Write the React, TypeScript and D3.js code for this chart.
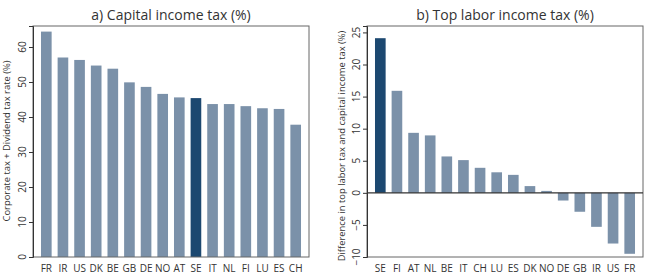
import { useRef, useEffect } from 'react';
import * as d3 from 'd3';

// panel a
const capCountries = ['FR', 'IR', 'US', 'DK', 'BE', 'GB', 'DE', 'NO', 'AT', 'SE', 'IT', 'NL', 'FI', 'LU', 'ES', 'CH'];
const capValues = [64.4, 57.0, 56.3, 54.7, 53.8, 49.9, 48.6, 46.6, 45.6, 45.4, 43.7, 43.7, 43.1, 42.5, 42.3, 37.8];
const capTicks = [0, 10, 20, 30, 40, 50, 60];

// panel b
const labCountries = ['SE', 'FI', 'AT', 'NL', 'BE', 'IT', 'CH', 'LU', 'ES', 'DK', 'NO', 'DE', 'GB', 'IR', 'US', 'FR'];
const labValues = [24.1, 15.9, 9.35, 8.95, 5.67, 5.1, 3.9, 3.2, 2.8, 1.05, 0.3, -1.2, -2.95, -5.3, -7.9, -9.5];
const labTicks = [-10, -5, 0, 5, 10, 15, 20, 25];

const LIGHT = '#7b91a9';
const DARK = '#1c4870';
const FONT = "'Open Sans', 'Noto Sans', sans-serif";

const W = 649;
const H = 274;

const App = () => {
  const svgRef = useRef<SVGSVGElement>(null);

  useEffect(() => {
    const svg = d3.select(svgRef.current);
    svg.selectAll('*').remove();

    const panel = (
      left: number,
      right: number,
      countries: string[],
      values: number[],
      ticks: number[],
      domain: [number, number],
      title: string,
      ylabel: string,
      label: { x: number; y: number; size: number },
      zeroLine: boolean
    ) => {
      const top = 26;
      const bottom = 257;
      const g = svg.append('g');

      const x = d3.scaleBand<string>().domain(countries).range([left + 5, right - 5]).paddingInner(0.36).paddingOuter(0.18);
      const y = d3.scaleLinear().domain(domain).range([bottom, top]);

      g.selectAll('rect.bar')
        .data(values)
        .join('rect')
        .attr('class', 'bar')
        .attr('x', (d, i) => x(countries[i])!)
        .attr('width', x.bandwidth())
        .attr('y', (d) => y(Math.max(0, d)))
        .attr('height', (d) => Math.abs(y(d) - y(0)))
        .attr('fill', (d, i) => (countries[i] === 'SE' ? DARK : LIGHT));

      // frame
      g.append('rect')
        .attr('x', left)
        .attr('y', top)
        .attr('width', right - left)
        .attr('height', bottom - top)
        .attr('fill', 'none')
        .attr('stroke', '#666')
        .attr('stroke-width', 1);

      if (zeroLine) {
        g.append('line')
          .attr('x1', left)
          .attr('x2', right)
          .attr('y1', y(0))
          .attr('y2', y(0))
          .attr('stroke', '#333')
          .attr('stroke-width', 1.2);
      }

      const yAxis = d3.axisLeft(y).tickValues(ticks).tickSize(4).tickFormat(() => '');
      const ay = g.append('g').attr('transform', `translate(${left},0)`).call(yAxis);
      ay.select('.domain').attr('stroke', '#333');
      ay.selectAll('line').attr('stroke', '#333');

      // rotated tick labels
      g.selectAll('text.ytick')
        .data(ticks)
        .join('text')
        .attr('class', 'ytick')
        .attr('transform', (d) => `translate(${left - 7},${y(d)}) rotate(-90)`)
        .attr('text-anchor', 'middle')
        .attr('font-family', FONT)
        .attr('font-size', 10)
        .attr('fill', '#333')
        .text((d) => d3.format('d')(d));

      g.selectAll('text.cat')
        .data(countries)
        .join('text')
        .attr('class', 'cat')
        .attr('x', (d) => x(d)! + x.bandwidth() / 2)
        .attr('y', 272)
        .attr('text-anchor', 'middle')
        .attr('font-family', FONT)
        .attr('font-size', 10)
        .attr('fill', '#333')
        .text((d) => d);

      g.append('text')
        .attr('x', (left + right) / 2)
        .attr('y', 20)
        .attr('text-anchor', 'middle')
        .attr('font-family', FONT)
        .attr('font-size', 14)
        .attr('fill', '#333')
        .text(title);

      g.append('text')
        .attr('transform', `translate(${label.x},${label.y}) rotate(-90)`)
        .attr('text-anchor', 'middle')
        .attr('font-family', FONT)
        .attr('font-size', label.size)
        .attr('fill', '#333')
        .text(ylabel);
    };

    panel(33, 309, capCountries, capValues, capTicks, [0, 66], 'a) Capital income tax (%)',
      'Corporate tax + Dividend tax rate (%)', { x: 10, y: 141, size: 9.4 }, false);
    panel(367, 643, labCountries, labValues, labTicks, [-10, 26], 'b) Top labor income tax (%)',
      'Difference in top labor tax and capital income tax (%)', { x: 345, y: 146, size: 9.4 }, true);
  }, []);

  return (
    <svg ref={svgRef} width={W} height={H} style={{ position: 'absolute', left: 0, top: 0, background: '#fff' }} />
  );
};

export default App;
